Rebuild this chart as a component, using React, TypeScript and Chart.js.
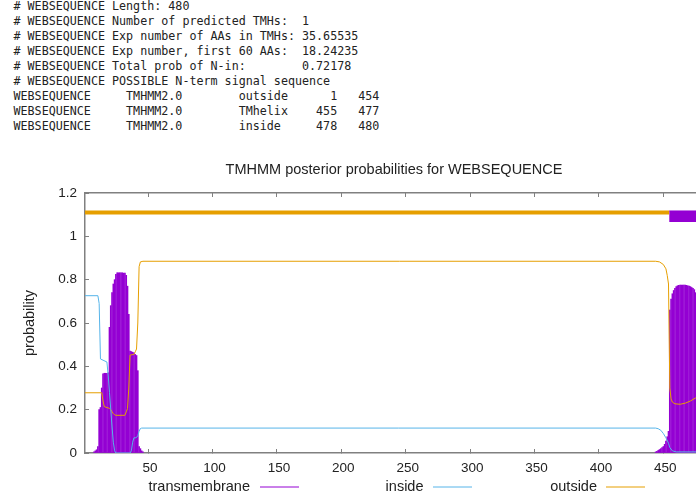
import React, { useEffect, useRef } from "react";
import { Chart, registerables } from "chart.js";

Chart.register(...registerables);

// ---------------- text block ----------------
const headerLines = [
  "# WEBSEQUENCE Length: 480",
  "# WEBSEQUENCE Number of predicted TMHs:  1",
  "# WEBSEQUENCE Exp number of AAs in TMHs: 35.65535",
  "# WEBSEQUENCE Exp number, first 60 AAs:  18.24235",
  "# WEBSEQUENCE Total prob of N-in:        0.72178",
  "# WEBSEQUENCE POSSIBLE N-term signal sequence",
  "WEBSEQUENCE     TMHMM2.0        outside      1   454",
  "WEBSEQUENCE     TMHMM2.0        TMhelix    455   477",
  "WEBSEQUENCE     TMHMM2.0        inside     478   480",
];

const chartTitle = "TMHMM posterior probabilities for WEBSEQUENCE";
const yAxisTitle = "probability";
const legendLabels = ["transmembrane", "inside", "outside"];

// ---------------- data ----------------
const tmResidues = [
  8, 9, 10, 11, 12, 13, 14, 15, 16, 17, 18, 19, 20, 21, 22, 23, 24, 25, 26, 27,
  28, 29, 30, 31, 32, 33, 34, 35, 36, 37, 38, 39, 40, 41, 42, 43, 44, 45, 46,
  444, 445, 446, 447, 448, 449, 450, 451, 452, 453, 454, 455, 456, 457, 458,
  459, 460, 461, 462, 463, 464, 465, 466, 467, 468, 469, 470, 471, 472, 473,
  474, 475, 476, 477, 478, 479, 480,
];
const tmProb = [
  0.005, 0.01, 0.015, 0.03, 0.2, 0.21, 0.3, 0.365, 0.368, 0.368, 0.368, 0.37,
  0.58, 0.68, 0.74, 0.78, 0.8, 0.825, 0.832, 0.832, 0.832, 0.832, 0.832, 0.83,
  0.83, 0.82, 0.77, 0.64, 0.47, 0.468, 0.465, 0.462, 0.455, 0.45, 0.38, 0.03,
  0.02, 0.01, 0.005,
  0.005, 0.008, 0.012, 0.016, 0.02, 0.025, 0.03, 0.04, 0.055, 0.075, 0.1, 0.66,
  0.71, 0.735, 0.75, 0.76, 0.768, 0.772, 0.774, 0.775, 0.775, 0.775, 0.775,
  0.775, 0.774, 0.772, 0.77, 0.768, 0.764, 0.76, 0.754, 0.74, 0.72, 0.69, 0.5,
  0.3, 0.15,
];

const insideResidues = [
  1, 11, 12, 13, 18, 19, 20, 21, 22, 23, 24, 25, 36, 37, 38, 39, 40, 41, 42,
  43, 44, 45, 444, 446, 448, 450, 452, 454, 455, 457, 460, 480,
];
const insideProb = [
  0.726, 0.726, 0.69, 0.434, 0.42, 0.36, 0.28, 0.2, 0.12, 0.05, 0.01, 0.0, 0.0,
  0.01, 0.05, 0.07, 0.07, 0.072, 0.08, 0.1, 0.113, 0.115, 0.115, 0.112, 0.105,
  0.09, 0.07, 0.045, 0.025, 0.01, 0.005, 0.005,
];

const outsideResidues = [
  1, 14, 15, 16, 20, 21, 22, 23, 24, 25, 32, 33, 34, 35, 36, 39, 40, 41, 42,
  43, 44, 46, 444, 447, 450, 452, 453, 454, 455, 456, 457, 459, 463, 467, 471,
  475, 480,
];
const outsideProb = [
  0.278, 0.278, 0.24, 0.214, 0.206, 0.2, 0.19, 0.182, 0.176, 0.174, 0.174,
  0.19, 0.205, 0.3, 0.452, 0.455, 0.467, 0.48, 0.6, 0.86, 0.882, 0.885, 0.885,
  0.882, 0.87, 0.85, 0.82, 0.78, 0.3, 0.25, 0.235, 0.227, 0.225, 0.23, 0.24,
  0.254, 0.27,
];

// top annotation bar: outside 1-454, TMhelix 455-477
const topOutsideRange = [1, 454.5];
const topOutsideLevel = 1.11;
const topHelixRange = [454.5, 477.5];
const topHelixLevels = [1.066, 1.117];

const xTickValues = [50, 100, 150, 200, 250, 300, 350, 400, 450];
const yTickValues = [0, 0.2, 0.4, 0.6, 0.8, 1, 1.2];

const PURPLE = "#9400d3";
const BLUE = "#56b4e9";
const ORANGE = "#e69f00";
const AXIS = "#808080";
const TEXT = "#222222";
const FONT = "'Liberation Sans', Arial, sans-serif";

export default function App() {
  const ref = useRef<HTMLCanvasElement>(null);

  useEffect(() => {
    const canvas = ref.current;
    if (!canvas) return;
    Chart.defaults.font.family = FONT;

    const pairs = (xs: number[], ys: number[]) =>
      xs.map((x, i) => ({ x, y: ys[i] }));

    const overlay = {
      id: "overlay",
      afterDraw(chart: any) {
        const ctx = chart.ctx as CanvasRenderingContext2D;
        ctx.save();
        ctx.fillStyle = TEXT;
        ctx.font = `14.5px ${FONT}`;
        ctx.textBaseline = "middle";
        ctx.textAlign = "center";
        ctx.fillText(chartTitle, 394, 25);

        const ly = 342.3;
        const items = [
          { text: legendLabels[0], end: 250, s0: 260, s1: 299, color: PURPLE },
          { text: legendLabels[1], end: 423.5, s0: 433, s1: 472, color: BLUE },
          { text: legendLabels[2], end: 597, s0: 606, s1: 645, color: ORANGE },
        ];
        ctx.textAlign = "right";
        for (const it of items) {
          ctx.fillStyle = TEXT;
          ctx.fillText(it.text, it.end, ly);
          ctx.strokeStyle = it.color;
          ctx.lineWidth = 1;
          ctx.beginPath();
          ctx.moveTo(it.s0, 342);
          ctx.lineTo(it.s1, 342);
          ctx.stroke();
        }
        ctx.restore();
      },
    };

    const gridOpts = {
      drawOnChartArea: false,
      tickLength: -4,
      color: AXIS,
      lineWidth: 1,
      offset: false,
    };
    const borderOpts = { color: AXIS, width: 1.5 };

    const chart = new Chart(canvas, {
      type: "line",
      data: {
        datasets: [
          {
            label: "outside-top",
            data: [
              { x: topOutsideRange[0], y: topOutsideLevel },
              { x: topOutsideRange[1], y: topOutsideLevel },
            ],
            borderColor: ORANGE,
            borderWidth: 4,
            pointRadius: 0,
            order: 0,
          },
          {
            label: "helix-top",
            data: [
              { x: topHelixRange[0], y: topHelixLevels[1] },
              { x: topHelixRange[1], y: topHelixLevels[1] },
            ],
            borderColor: PURPLE,
            borderWidth: 1,
            backgroundColor: PURPLE,
            fill: { value: topHelixLevels[0] },
            pointRadius: 0,
            order: 0,
          },
          {
            label: legendLabels[1],
            data: pairs(insideResidues, insideProb),
            borderColor: BLUE,
            borderWidth: 1,
            pointRadius: 0,
            tension: 0,
            order: 1,
          },
          {
            label: legendLabels[2],
            data: pairs(outsideResidues, outsideProb),
            borderColor: ORANGE,
            borderWidth: 1,
            pointRadius: 0,
            tension: 0,
            order: 1,
          },
          {
            type: "bar",
            label: legendLabels[0],
            data: pairs(tmResidues, tmProb),
            backgroundColor: PURPLE,
            borderWidth: 0,
            barThickness: 1,
            order: 5,
          } as any,
        ],
      },
      options: {
        animation: false,
        responsive: false,
        devicePixelRatio: 1,
        layout: { padding: { left: 0, right: 18, top: 0, bottom: 0 } },
        plugins: {
          legend: { display: false },
          title: { display: false },
          tooltip: { enabled: false },
        },
        scales: {
          x: {
            type: "linear",
            position: "bottom",
            min: 1,
            max: 480,
            offset: false,
            afterBuildTicks: (s: any) => {
              s.ticks = xTickValues.map((v) => ({ value: v }));
            },
            afterFit: (s: any) => {
              s.height = 46;
            },
            grid: gridOpts,
            border: borderOpts,
            ticks: {
              color: TEXT,
              font: { size: 13.5 },
              padding: 11,
              labelOffset: 2,
              maxRotation: 0,
              autoSkip: false,
            },
          },
          x2: {
            type: "linear",
            position: "top",
            min: 1,
            max: 480,
            offset: false,
            afterBuildTicks: (s: any) => {
              s.ticks = xTickValues.map((v) => ({ value: v }));
            },
            afterFit: (s: any) => {
              s.height = 48;
            },
            grid: gridOpts,
            border: borderOpts,
            ticks: { display: false },
          },
          y: {
            type: "linear",
            position: "left",
            min: 0,
            max: 1.2,
            afterBuildTicks: (s: any) => {
              s.ticks = yTickValues.map((v) => ({ value: v }));
            },
            afterFit: (s: any) => {
              s.width = 85;
            },
            grid: gridOpts,
            border: borderOpts,
            ticks: {
              color: TEXT,
              font: { size: 13.5 },
              padding: 12,
              callback: (v: any) => String(Math.round(Number(v) * 10) / 10),
            },
            title: {
              display: true,
              text: yAxisTitle,
              color: TEXT,
              font: { size: 14.5 },
              padding: { top: 21.3, bottom: 0 },
            },
          },
        },
      } as any,
      plugins: [overlay],
    });

    return () => chart.destroy();
  }, []);

  return (
    <div
      style={{
        position: "absolute",
        left: 0,
        top: 0,
        width: 696,
        height: 499,
        overflow: "hidden",
        background: "#ffffff",
      }}
    >
      <pre
        style={{
          position: "absolute",
          left: 13.5,
          top: -1,
          margin: 0,
          fontFamily: "'DejaVu Sans Mono', 'Liberation Mono', monospace",
          fontSize: "11.7px",
          lineHeight: "15px",
          color: TEXT,
        }}
      >
        {headerLines.join("\n")}
      </pre>
      <canvas
        ref={ref}
        width={720}
        height={354}
        style={{
          position: "absolute",
          left: 0,
          top: 145,
          width: 720,
          height: 354,
        }}
      />
    </div>
  );
}
